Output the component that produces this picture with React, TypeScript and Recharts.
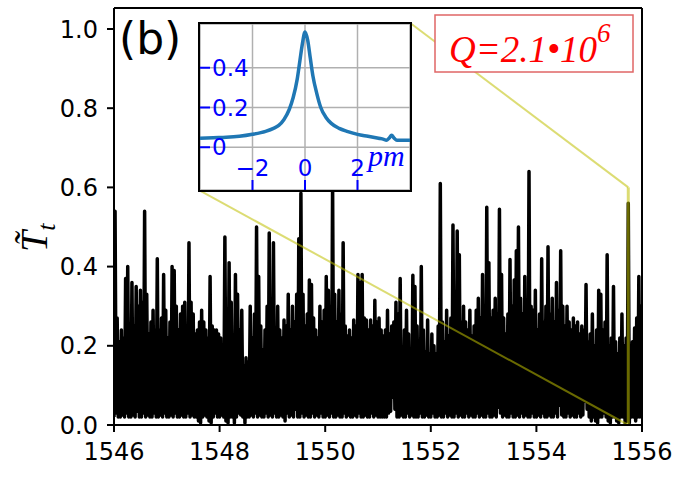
import React from "react";
import {
  LineChart,
  Line,
  XAxis,
  YAxis,
  CartesianGrid,
  ReferenceLine,
} from "recharts";

// ---------- main spectrum (transmission vs wavelength, nm) ----------
const wlStart = 1546;
const wlStep = 0.04; // one spike per step
const xTicks = [1546, 1548, 1550, 1552, 1554, 1556];
const yTicks = [0, 0.2, 0.4, 0.6, 0.8, 1.0];

// local maxima (spike tops)
const peaks = [
  0.54, 0.27, 0.21, 0.24, 0.22, 0.37, 0.40, 0.22, 0.36, 0.25,
  0.35, 0.30, 0.34, 0.31, 0.54, 0.33, 0.23, 0.26, 0.29, 0.24,
  0.42, 0.24, 0.27, 0.38, 0.29, 0.22, 0.26, 0.40, 0.39, 0.30,
  0.24, 0.28, 0.30, 0.31, 0.25, 0.46, 0.31, 0.28, 0.23, 0.24,
  0.26, 0.29, 0.26, 0.24, 0.22, 0.375, 0.25, 0.24, 0.24, 0.23,
  0.22, 0.11, 0.475, 0.24, 0.41, 0.31, 0.22, 0.38, 0.33, 0.24,
  0.29, 0.15, 0.17, 0.16, 0.30, 0.22, 0.28, 0.50, 0.375, 0.25,
  0.19, 0.24, 0.30, 0.485, 0.28, 0.46, 0.18, 0.30, 0.24, 0.22,
  0.265, 0.25, 0.33, 0.24, 0.30, 0.26, 0.33, 0.47, 0.585, 0.33,
  0.25, 0.28, 0.366, 0.355, 0.27, 0.24, 0.22, 0.30, 0.26, 0.29,
  0.375, 0.34, 0.30, 0.61, 0.33, 0.26, 0.34, 0.28, 0.46, 0.25,
  0.225, 0.24, 0.22, 0.265, 0.25, 0.38, 0.36, 0.38, 0.27, 0.265,
  0.24, 0.265, 0.25, 0.315, 0.26, 0.27, 0.24, 0.225, 0.24, 0.29,
  0.23, 0.25, 0.26, 0.31, 0.28, 0.37, 0.18, 0.24, 0.29, 0.23,
  0.16, 0.378, 0.35, 0.25, 0.21, 0.40, 0.24, 0.185, 0.265, 0.18,
  0.23, 0.20, 0.18, 0.25, 0.61, 0.26, 0.21, 0.29, 0.225, 0.27,
  0.505, 0.30, 0.49, 0.43, 0.26, 0.30, 0.26, 0.24, 0.29, 0.225,
  0.25, 0.29, 0.32, 0.27, 0.38, 0.30, 0.55, 0.41, 0.27, 0.29,
  0.32, 0.28, 0.545, 0.38, 0.27, 0.23, 0.28, 0.418, 0.30, 0.366,
  0.44, 0.50, 0.32, 0.28, 0.375, 0.29, 0.64, 0.30, 0.29, 0.34,
  0.24, 0.28, 0.42, 0.26, 0.30, 0.45, 0.28, 0.32, 0.26, 0.36,
  0.29, 0.44, 0.30, 0.25, 0.30, 0.26, 0.24, 0.27, 0.25, 0.26,
  0.23, 0.25, 0.24, 0.355, 0.21, 0.23, 0.28, 0.20, 0.24, 0.34,
  0.33, 0.24, 0.26, 0.43, 0.20, 0.22, 0.35, 0.21, 0.18, 0.22,
  0.28, 0.20, 0.22, 0.56, 0.18, 0.21, 0.245, 0.27, 0.375, 0.30,
];

// local minima between spikes
const troughs = [
  0.02, 0.03, 0.02, 0.02, 0.025, 0.02, 0.03, 0.02, 0.02, 0.025, 0.02, 0.035, 0.02, 0.02, 0.03, 0.02, 0.025, 0.02, 0.02, 0.03, 0.02, 0.02, 0.025, 0.02, 0.03,
  0.02, 0.02, 0.025, 0.02, 0.03, 0.02, 0.02, 0.025, 0.02, 0.02, 0.03, 0.02, 0.025, 0.02, 0.02, 0.01, 0.005, 0.02, 0.025, 0.02, 0.01, 0.005, 0.02, 0.03, 0.02,
  0.02, 0.025, 0.02, 0.01, 0.005, 0.02, 0.02, 0.005, 0.02, 0.03, 0.025, 0.02, 0.005, 0.02, 0.02, 0.025, 0.02, 0.03, 0.02, 0.025, 0.02, 0.02, 0.03, 0.02, 0.025,
  0.02, 0.03, 0.02, 0.02, 0.025, 0.02, 0.01, 0.03, 0.02, 0.025, 0.02, 0.04, 0.02, 0.02, 0.03, 0.02, 0.025, 0.02, 0.02, 0.03, 0.02, 0.025, 0.02, 0.03, 0.02,
  0.02, 0.025, 0.02, 0.03, 0.02, 0.02, 0.025, 0.02, 0.02, 0.03, 0.02, 0.025, 0.02, 0.02, 0.025, 0.02, 0.03, 0.02, 0.02, 0.025, 0.02, 0.02, 0.03, 0.02, 0.025,
  0.02, 0.02, 0.02, 0.02, 0.02, 0.03, 0.035, 0.07, 0.04, 0.02, 0.02, 0.025, 0.02, 0.02, 0.03, 0.02, 0.025, 0.02, 0.02, 0.02, 0.03, 0.02, 0.02, 0.025, 0.02,
  0.02, 0.03, 0.02, 0.02, 0.025, 0.02, 0.02, 0.03, 0.02, 0.025, 0.02, 0.02, 0.03, 0.02, 0.025, 0.02, 0.02, 0.03, 0.02, 0.025, 0.02, 0.02, 0.03, 0.02, 0.025,
  0.02, 0.02, 0.03, 0.02, 0.02, 0.025, 0.02, 0.045, 0.03, 0.02, 0.025, 0.02, 0.02, 0.03, 0.02, 0.02, 0.025, 0.02, 0.03, 0.02, 0.025, 0.02, 0.02, 0.03, 0.02,
  0.02, 0.025, 0.02, 0.03, 0.02, 0.02, 0.025, 0.02, 0.02, 0.03, 0.02, 0.05, 0.025, 0.02, 0.02, 0.03, 0.02, 0.025, 0.02, 0.02, 0.03, 0.02, 0.025, 0.06, 0.04,
  0.02, 0.01, 0.02, 0.01, 0.005, 0.02, 0.02, 0.03, 0.02, 0.01, 0.005, 0.02, 0.02, 0.01, 0.005, 0.02, 0.02, 0.005, 0.01, 0.005, 0.02, 0.02, 0.01, 0.02, 0.02, 0.02,
];

// zoom region marked on the main plot, and inset corners (data coords)
const zoomX = 1555.74;
const zoomTop = 0.6;
const insetLowCorner = { x: 1547.61, y: 0.593 };
const insetHighCorner = { x: 1551.61, y: 1.015 };

// ---------- inset: resonance line shape (detuning in pm) ----------
const insetX = [-4, -3.5, -3, -2.5, -2, -1.5, -1.2, -1, -0.8, -0.6, -0.45, -0.3, -0.2, -0.1, 0, 0.1, 0.2, 0.3, 0.45, 0.6, 0.8, 1, 1.3, 1.6, 2, 2.4, 2.8, 3, 3.1, 3.2, 3.3, 3.4, 3.5, 3.7, 4];
const insetY = [0.045, 0.048, 0.05, 0.055, 0.065, 0.08, 0.095, 0.11, 0.14, 0.19, 0.25, 0.34, 0.43, 0.52, 0.58, 0.54, 0.45, 0.36, 0.27, 0.20, 0.15, 0.12, 0.095, 0.08, 0.065, 0.055, 0.045, 0.04, 0.035, 0.045, 0.06, 0.045, 0.035, 0.035, 0.035];
const insetXTicks = [-2, 0, 2];
const insetYTicks = [0, 0.2, 0.4];

const mainData: { x: number; y: number }[] = [];
for (let i = 0; i < peaks.length; i++) {
  const t = troughs[Math.min(i, troughs.length - 1)];
  mainData.push({ x: wlStart + wlStep * i, y: t });
  mainData.push({ x: wlStart + wlStep * i + wlStep / 2, y: peaks[i] });
}
mainData.push({ x: wlStart + wlStep * peaks.length, y: troughs[troughs.length - 1] });

const insetData = insetX.map((x, i) => ({ x, y: insetY[i] }));

const yellow = "#bfbf00";
const blue = "#0000ff";

export default function App() {
  return (
    <div style={{ position: "absolute", left: 0, top: 0, width: 692, height: 477, background: "#fff" }}>
      <LineChart
        width={692}
        height={477}
        data={mainData}
        margin={{ top: 8, right: 50, left: 0, bottom: 0 }}
      >
        <XAxis
          dataKey="x"
          type="number"
          domain={[1546, 1556]}
          ticks={xTicks}
          allowDataOverflow
          height={52}
          tickSize={7}
          tickMargin={11}
          axisLine={{ stroke: "#000", strokeWidth: 2 }}
          tickLine={{ stroke: "#000", strokeWidth: 2 }}
          tick={{ fill: "#000", fontSize: 24, fontFamily: "DejaVu Sans" }}
        />
        <XAxis
          xAxisId="top"
          orientation="top"
          type="number"
          domain={[1546, 1556]}
          mirror
          height={1}
          tick={false}
          tickLine={false}
          axisLine={{ stroke: "#000", strokeWidth: 2 }}
        />
        <YAxis
          type="number"
          domain={[0, 1.053]}
          ticks={yTicks}
          allowDataOverflow
          width={114}
          tickSize={7}
          tickMargin={9}
          tickFormatter={(v: number) => v.toFixed(1)}
          axisLine={{ stroke: "#000", strokeWidth: 2 }}
          tickLine={{ stroke: "#000", strokeWidth: 2 }}
          tick={{ fill: "#000", fontSize: 24, fontFamily: "DejaVu Sans" }}
        />
        <YAxis
          yAxisId="right"
          orientation="right"
          domain={[0, 1]}
          mirror
          width={1}
          tick={false}
          tickLine={false}
          axisLine={{ stroke: "#000", strokeWidth: 2 }}
        />
        <Line
          dataKey="y"
          type="linear"
          stroke="#000"
          strokeWidth={3.5}
          strokeLinejoin="round"
          dot={false}
          activeDot={false}
          isAnimationActive={false}
        />
        <ReferenceLine
          segment={[{ x: zoomX, y: 0 }, { x: zoomX, y: zoomTop }]}
          stroke={yellow}
          strokeOpacity={0.55}
          strokeWidth={3}
          ifOverflow="visible"
        />
        <ReferenceLine
          segment={[{ x: zoomX, y: 0 }, insetLowCorner]}
          stroke={yellow}
          strokeOpacity={0.55}
          strokeWidth={2}
          ifOverflow="visible"
        />
        <ReferenceLine
          segment={[{ x: zoomX, y: zoomTop }, insetHighCorner]}
          stroke={yellow}
          strokeOpacity={0.55}
          strokeWidth={2}
          ifOverflow="visible"
        />
      </LineChart>

      {/* inset */}
      <div
        style={{
          position: "absolute",
          left: 198,
          top: 22,
          width: 210,
          height: 166,
          border: "2px solid #000",
          background: "#fff",
        }}
      >
        <LineChart
          width={210}
          height={166}
          data={insetData}
          margin={{ top: 0, right: 0, left: 0, bottom: 0 }}
        >
          <CartesianGrid stroke="#b0b0b0" strokeWidth={1.5} />
          <XAxis
            dataKey="x"
            type="number"
            domain={[-4, 4]}
            ticks={insetXTicks}
            allowDataOverflow
            mirror
            height={1}
            tickSize={10}
            tickMargin={4}
            axisLine={false}
            tickLine={{ stroke: blue, strokeWidth: 2 }}
            tickFormatter={(v: number) => (v < 0 ? "\u2212" + Math.abs(v) : String(v))}
            tick={{ fill: blue, fontSize: 23, fontFamily: "DejaVu Sans" }}
          />
          <YAxis
            type="number"
            domain={[-0.215, 0.62]}
            ticks={insetYTicks}
            allowDataOverflow
            mirror
            width={1}
            tickSize={10}
            tickMargin={2}
            axisLine={false}
            tickLine={{ stroke: blue, strokeWidth: 2 }}
            tickFormatter={(v: number) => (v === 0 ? "0" : v.toFixed(1))}
            tick={{ fill: blue, fontSize: 23, fontFamily: "DejaVu Sans" }}
          />
          <Line
            dataKey="y"
            type="monotone"
            stroke="#1f77b4"
            strokeWidth={3.5}
            dot={false}
            activeDot={false}
            isAnimationActive={false}
          />
        </LineChart>
      </div>

      {/* text annotations */}
      <svg
        width={692}
        height={477}
        style={{ position: "absolute", left: 0, top: 0, pointerEvents: "none" }}
      >
        <text x={119} y={54} fontFamily="DejaVu Sans" fontSize={44} fill="#000">
          (b)
        </text>
        <text x={368} y={166} fontFamily="Liberation Serif" fontStyle="italic" fontSize={30} fill={blue}>
          pm
        </text>
        <rect x={435} y={15} width={198} height={57} fill="#fff" stroke="#e06666" strokeWidth={1.5} />
        <text x={449} y={62} fontFamily="Liberation Serif" fontStyle="italic" fontSize={37} fill="#ff0000">
          Q=2.1•10
          <tspan fontSize={27} dy={-20}>6</tspan>
        </text>
        <text
          transform="translate(47,252) rotate(-90)"
          fontFamily="Liberation Serif"
          fontStyle="italic"
          fontSize={38}
          fill="#000"
        >
          T̃
          <tspan fontSize={26} dy={8}>t</tspan>
        </text>
      </svg>
    </div>
  );
}
